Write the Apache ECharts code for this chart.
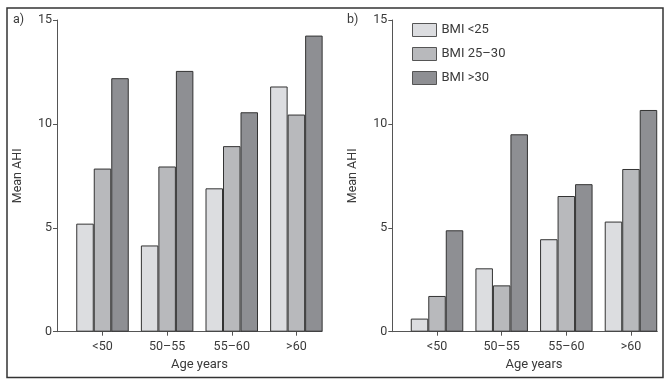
<!DOCTYPE html>
<html><head><meta charset="utf-8">
<script src="https://cdn.jsdelivr.net/npm/echarts@6/dist/echarts.min.js"></script>
<style>html,body{margin:0;padding:0;background:#fff}#c{width:669px;height:381px}</style>
</head><body><div id="c"></div>
<script>
var categories = ['<50', '50–55', '55–60', '>60'];
var seriesNames = ['BMI <25', 'BMI 25–30', 'BMI >30'];
var panelA_bmiLow = [5.2, 4.15, 6.9, 11.8];
var panelA_bmiMid = [7.85, 7.95, 8.93, 10.45];
var panelA_bmiHigh = [12.2, 12.55, 10.56, 14.25];
var panelB_bmiLow = [0.63, 3.05, 4.45, 5.3];
var panelB_bmiMid = [1.72, 2.23, 6.53, 7.83];
var panelB_bmiHigh = [4.88, 9.5, 7.1, 10.67];
var yTicks = [0, 5, 10, 15];

var colors = ['#dcdde0', '#b8b9bc', '#8e8f93'];
var font = 'Roboto, "Noto Sans", sans-serif';
var txt = '#3a3a3a';
var gridTop = 20, gridH = 311.7;

var chart = echarts.init(document.getElementById('c'), null, {renderer: 'canvas'});

function frameX(i) {
  return {gridIndex: i, type: 'category', data: categories, boundaryGap: true,
    axisLine: {show: true, lineStyle: {color: '#555', width: 1}},
    axisTick: {show: false}, axisLabel: {show: false}, splitLine: {show: false}};
}
function frameY(i) {
  return {gridIndex: i, type: 'value', min: yTicks[0], max: yTicks[yTicks.length - 1], interval: 5,
    name: 'Mean AHI', nameLocation: 'middle', nameGap: 33,
    nameTextStyle: {fontFamily: font, fontSize: 12.5, color: txt},
    axisLine: {show: true, lineStyle: {color: '#555', width: 1}},
    axisTick: {show: true, length: 4, lineStyle: {color: '#555'}},
    axisLabel: {fontFamily: font, fontSize: 12.5, color: txt, margin: 5},
    splitLine: {show: false}};
}
function barX(i) {
  return {gridIndex: i, type: 'category', data: categories, boundaryGap: true,
    name: 'Age years', nameLocation: 'middle', nameGap: 27,
    nameTextStyle: {fontFamily: font, fontSize: 13, color: txt},
    axisLine: {show: false},
    axisTick: {show: true, alignWithLabel: true, length: 4, lineStyle: {color: '#555'}},
    axisLabel: {fontFamily: font, fontSize: 12.5, color: txt, margin: 9},
    splitLine: {show: false}};
}
function barY(i) {
  return {gridIndex: i, type: 'value', min: 0, max: 15, interval: 5, show: false, splitLine: {show: false}};
}
function bar(name, data, xi, ci) {
  return {type: 'bar', name: name, data: data, xAxisIndex: xi, yAxisIndex: xi,
    barWidth: 17.5, barGap: '0%',
    itemStyle: {color: colors[ci], borderColor: '#333', borderWidth: 1}};
}

chart.setOption({
  animation: false,
  backgroundColor: '#fff',
  grid: [
    {left: 57, top: gridTop, width: 265, height: gridH},
    {left: 70.2, top: gridTop, width: 258.5, height: gridH},
    {left: 392.3, top: gridTop, width: 265, height: gridH},
    {left: 404.7, top: gridTop, width: 258.6, height: gridH}
  ],
  xAxis: [frameX(0), barX(1), frameX(2), barX(3)],
  yAxis: [frameY(0), barY(1), frameY(2), barY(3)],
  legend: {
    orient: 'vertical', left: 407, top: 18, itemWidth: 24, itemHeight: 13, itemGap: 10,
    icon: 'rect',
    data: seriesNames,
    textStyle: {fontFamily: font, fontSize: 13, color: txt},
    itemStyle: {borderColor: '#555', borderWidth: 1}
  },
  series: [
    bar(seriesNames[0], panelA_bmiLow, 1, 0),
    bar(seriesNames[1], panelA_bmiMid, 1, 1),
    bar(seriesNames[2], panelA_bmiHigh, 1, 2),
    bar(seriesNames[0], panelB_bmiLow, 3, 0),
    bar(seriesNames[1], panelB_bmiMid, 3, 1),
    bar(seriesNames[2], panelB_bmiHigh, 3, 2)
  ],
  graphic: [
    {type: 'rect', shape: {x: 7, y: 8, width: 656, height: 369.5}, style: {fill: 'none', stroke: '#333', lineWidth: 1.5}, silent: true},
    {type: 'text', left: 13, top: 13, style: {text: 'a)', font: '12.5px ' + font, fill: txt}},
    {type: 'text', left: 347, top: 13, style: {text: 'b)', font: '12.5px ' + font, fill: txt}}
  ]
});
</script></body></html>
